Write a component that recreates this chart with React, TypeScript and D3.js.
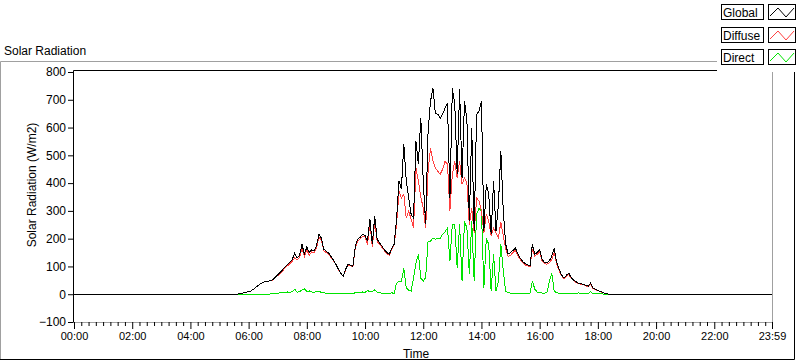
import React, { useEffect, useRef } from "react";
import * as d3 from "d3";

const W = 800;
const H = 361;

// minutes since midnight: night point, 5-minute samples 05:30..19:00, end of day
const sampleTimes = [0, ...d3.range(330, 1141, 5), 1439];

const globalRad = [
  0,
  0, 0, 1, 3, 5, 7,
  9, 12, 18, 25, 32, 38, 43, 45, 47, 49, 52, 62,
  70, 78, 88, 98, 108, 115, 125, 148, 130, 140, 180, 144,
  170, 150, 160, 155, 175, 216, 202, 162, 155, 148, 135, 122,
  108, 90, 75, 65, 90, 108, 104, 101, 173, 198, 205, 216,
  212, 191, 270, 180, 281, 198, 185, 173, 160, 150, 144, 165,
  180, 270, 407, 380, 540, 407, 346, 288, 274, 551, 468, 634,
  407, 252, 587, 695, 742, 650, 648, 634, 648, 670, 688, 346,
  742, 684, 432, 738, 418, 695, 630, 263, 598, 227, 648, 659,
  695, 227, 396, 360, 216, 407, 227, 324, 515, 300, 180, 145,
  150, 158, 166, 145, 130, 118, 110, 106, 101, 180, 144, 150,
  160, 125, 115, 112, 120, 137, 166, 115, 90, 70, 58, 68,
  76, 60, 50, 45, 40, 38, 36, 32, 29, 40, 22, 18,
  14, 10, 7, 3, 1, 0, 0, 0, 0, 0, 0, 0,
  0,
  0,
];

const diffuseRad = [
  0,
  0, 0, 1, 3, 5, 7,
  9, 12, 18, 25, 32, 38, 43, 45, 47, 48, 50, 60,
  67, 74, 84, 94, 102, 110, 118, 132, 124, 132, 165, 136,
  160, 140, 152, 148, 168, 205, 196, 156, 150, 145, 132, 120,
  106, 89, 74, 64, 88, 106, 102, 99, 168, 192, 200, 208,
  206, 178, 258, 170, 262, 190, 180, 168, 156, 147, 140, 160,
  178, 250, 370, 346, 360, 274, 300, 270, 240, 454, 407, 350,
  310, 238, 443, 526, 480, 454, 443, 432, 450, 479, 468, 300,
  432, 479, 418, 479, 396, 418, 400, 250, 310, 220, 346, 335,
  299, 220, 288, 263, 210, 238, 220, 202, 260, 210, 165, 135,
  140, 150, 158, 138, 125, 114, 106, 102, 98, 160, 138, 144,
  152, 120, 110, 108, 114, 125, 150, 110, 86, 67, 56, 65,
  72, 57, 48, 43, 38, 36, 34, 30, 27, 36, 21, 17,
  13, 9, 6, 3, 1, 0, 0, 0, 0, 0, 0, 0,
  0,
  0,
];

const directRad = [
  0,
  0, 0, 0, 0, 0, 0,
  0, 0, 0, 0, 0, 0, 0, 0, 0, 1, 2, 3,
  4, 5, 6, 5, 8, 6, 10, 18, 7, 9, 15, 20,
  10, 12, 8, 7, 9, 12, 6, 5, 4, 3, 3, 2,
  2, 1, 1, 1, 2, 3, 4, 3, 5, 6, 5, 8,
  6, 14, 8, 10, 16, 7, 5, 4, 3, 3, 3, 5,
  3, 40, 47, 47, 94, 22, 15, 11, 58, 112, 144, 58,
  47, 60, 191, 191, 202, 198, 202, 202, 216, 225, 238, 119,
  252, 252, 94, 252, 47, 263, 238, 72, 263, 47, 288, 310,
  299, 22, 202, 180, 11, 144, 11, 47, 180, 83, 10, 5,
  4, 3, 3, 3, 3, 3, 3, 3, 4, 47, 18, 8,
  6, 4, 4, 5, 47, 76, 11, 5, 4, 3, 3, 3,
  4, 3, 3, 3, 5, 3, 3, 3, 2, 10, 2, 1,
  1, 1, 1, 0, 0, 0, 0, 0, 0, 0, 0, 0,
  0,
  0,
];

const xTickMinutes = [0, 120, 240, 360, 480, 600, 720, 840, 960, 1080, 1200, 1320, 1439];
const xTickLabels = ["00:00", "02:00", "04:00", "06:00", "08:00", "10:00", "12:00", "14:00", "16:00", "18:00", "20:00", "22:00", "23:59"];
const yTicks = [-100, 0, 100, 200, 300, 400, 500, 600, 700, 800];

const seriesNames = ["Global", "Diffuse", "Direct"];
const seriesColors = ["#000000", "#ff4040", "#00e400"];
const seriesValues = [globalRad, diffuseRad, directRad];

const FONT = "'Liberation Sans', Arial, sans-serif";

const App = () => {
  const svgRef = useRef<SVGSVGElement>(null);

  useEffect(() => {
    const svg = d3.select(svgRef.current);
    svg.selectAll("*").remove();

    const plot = { left: 73.5, top: 70.5, right: 772.5, bottom: 322.5 };
    const x = d3.scaleLinear().domain([0, 1439]).range([74, 772]);
    const y = d3.scaleLinear().domain([-100, 800]).range([322, 72]);

    svg.append("rect").attr("width", W).attr("height", H).attr("fill", "#fff");

    // outer panel frame (sunken look)
    const frame = svg.append("g").attr("fill", "none");
    frame.append("path").attr("d", "M0.5,359 V61.5 H800").attr("stroke", "#a0a0a0");
    frame.append("path").attr("d", "M0,359.5 H794.5 V61").attr("stroke", "#000");

    svg
      .append("text")
      .attr("x", 4)
      .attr("y", 55)
      .attr("font-family", FONT)
      .attr("font-size", 12)
      .text("Solar Radiation");

    // plot area
    svg
      .append("clipPath")
      .attr("id", "plotClip")
      .append("rect")
      .attr("x", plot.left)
      .attr("y", plot.top)
      .attr("width", plot.right - plot.left)
      .attr("height", plot.bottom - plot.top);

    const line = d3
      .line<number>()
      .x((d, i) => x(sampleTimes[i]))
      .y((d) => y(d));

    const lines = svg.append("g").attr("clip-path", "url(#plotClip)");
    // direct, diffuse, then global on top
    [2, 1, 0].forEach((k) => {
      lines
        .append("path")
        .datum(seriesValues[k])
        .attr("d", line)
        .attr("fill", "none")
        .attr("stroke", seriesColors[k])
        .attr("stroke-width", 1)
        .attr("shape-rendering", "crispEdges");
    });

    const border = svg.append("g").attr("fill", "none");
    border
      .append("path")
      .attr("d", `M${plot.left},${plot.bottom} H${plot.right} V${plot.top}`)
      .attr("stroke", "#a0a0a0");
    border
      .append("path")
      .attr("d", `M${plot.left},${plot.bottom} V${plot.top} H${plot.right}`)
      .attr("stroke", "#000");

    // y axis
    const yAxis = d3.axisLeft(y).tickValues(yTicks).tickSize(5).tickPadding(2);
    svg
      .append("g")
      .attr("transform", "translate(73,0)")
      .call(yAxis)
      .call((g) => g.select(".domain").remove())
      .call((g) => g.selectAll("text").attr("font-size", 12).attr("font-family", FONT).attr("fill", "#000"));

    // x axis minor ticks (15 min)
    const minor = d3.range(0, 1439, 15).filter((m) => m % 120 !== 0);
    svg
      .append("g")
      .attr("transform", "translate(0,322)")
      .call(d3.axisBottom(x).tickValues(minor).tickSize(4).tickFormat(() => ""))
      .call((g) => g.select(".domain").remove());

    const xAxis = d3
      .axisBottom(x)
      .tickValues(xTickMinutes)
      .tickSize(7)
      .tickPadding(3)
      .tickFormat((d, i) => xTickLabels[i]);
    svg
      .append("g")
      .attr("transform", "translate(0,322)")
      .call(xAxis)
      .call((g) => g.select(".domain").remove())
      .call((g) => g.selectAll("text").attr("font-size", 11).attr("font-family", FONT).attr("fill", "#000"));

    svg
      .append("text")
      .attr("transform", "translate(36,185) rotate(-90)")
      .attr("text-anchor", "middle")
      .attr("font-family", FONT)
      .attr("font-size", 12)
      .text("Solar Radiation (W/m2)");

    svg
      .append("text")
      .attr("x", 416)
      .attr("y", 358)
      .attr("text-anchor", "middle")
      .attr("font-family", FONT)
      .attr("font-size", 12)
      .text("Time");

    // legend
    svg.append("rect").attr("x", 717).attr("y", 0).attr("width", 83).attr("height", 72).attr("fill", "#fff");
    const legendTops = [4, 27, 49];
    seriesNames.forEach((name, i) => {
      const g = svg.append("g").attr("transform", `translate(0,${legendTops[i]})`);
      g.append("rect")
        .attr("x", 721.5)
        .attr("y", 0.5)
        .attr("width", 42)
        .attr("height", 15)
        .attr("fill", "#fff")
        .attr("stroke", "#000");
      g.append("text")
        .attr("x", 723)
        .attr("y", 12.5)
        .attr("font-family", FONT)
        .attr("font-size", 12)
        .text(name);
      g.append("rect")
        .attr("x", 768.5)
        .attr("y", 0.5)
        .attr("width", 27)
        .attr("height", 15)
        .attr("fill", "#fff")
        .attr("stroke", "#000");
      g.append("polyline")
        .attr("points", "770,12 778,4 786,13 794,4")
        .attr("fill", "none")
        .attr("stroke", seriesColors[i]);
    });

    return () => {
      svg.selectAll("*").remove();
    };
  }, []);

  return (
    <div style={{ position: "absolute", left: 0, top: 0 }}>
      <svg ref={svgRef} width={W} height={H} style={{ display: "block" }} />
    </div>
  );
};

export default App;
